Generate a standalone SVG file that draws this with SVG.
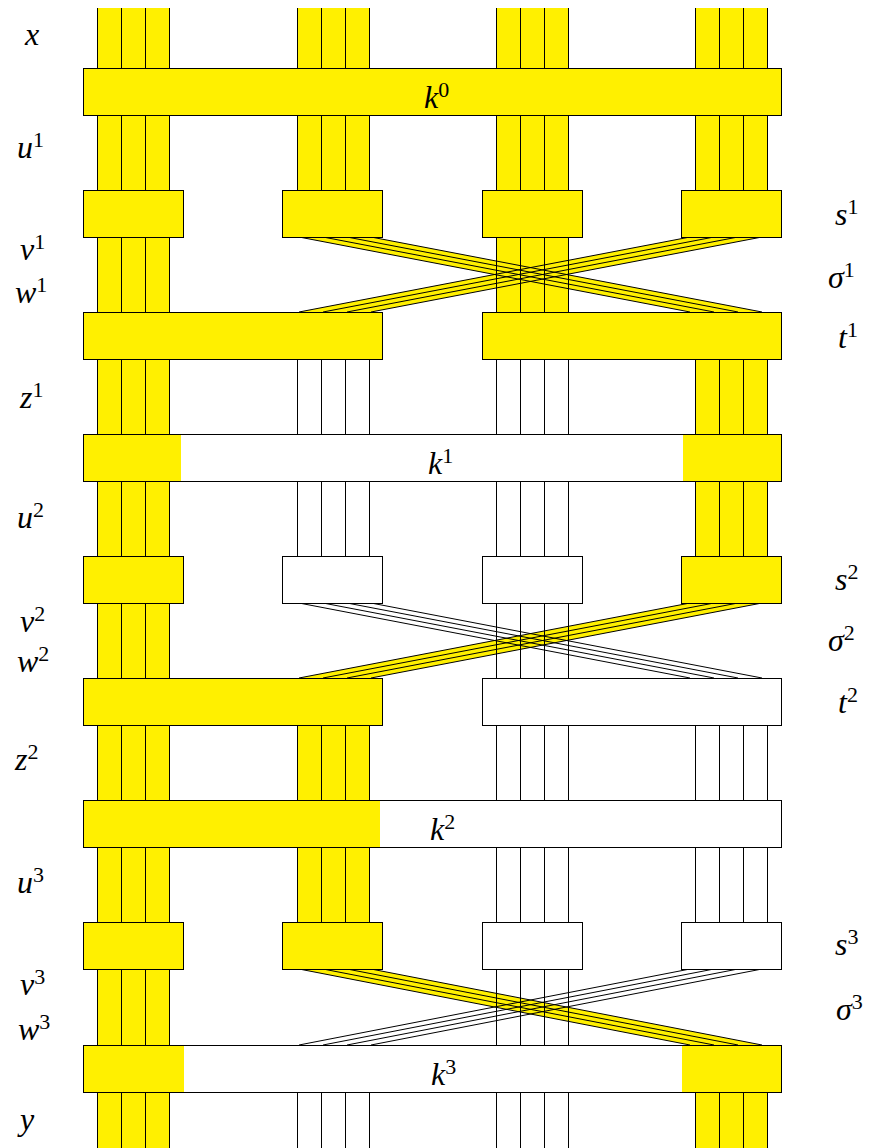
<svg xmlns="http://www.w3.org/2000/svg" width="876" height="1148" viewBox="0 0 876 1148">
<style>
.yf{fill:#FFF000;stroke:none}
.ln{fill:none;stroke:#000;stroke-width:1}
.v{shape-rendering:crispEdges}
.by{fill:#FFF000;stroke:#000;stroke-width:1;shape-rendering:crispEdges}
.bw{fill:#FFFFFF;stroke:#000;stroke-width:1;shape-rendering:crispEdges}
.bo{fill:none;stroke:#000;stroke-width:1;shape-rendering:crispEdges}
.lbl{font-family:"Liberation Serif","DejaVu Serif",serif;font-style:italic;font-size:32px;fill:#000}
.sup{font-style:normal;font-size:22px}
</style>
<rect width="876" height="1148" fill="#fff"/>
<g id="connectors">
  <g class="yf v">
    <rect x="97" y="8" width="72" height="1140"/>
    <rect x="496" y="8" width="72" height="320"/>
    <rect x="297" y="8" width="72" height="229"/>
    <rect x="297" y="678" width="72" height="291"/>
    <rect x="695" y="8" width="72" height="229"/>
    <rect x="695" y="312" width="72" height="291"/>
    <rect x="695" y="1045" width="72" height="103"/>
  </g>
  <g class="yf">
    <polygon points="299,237 371,237 762,312 690,312"/>
    <polygon points="690,237 762,237 371,312 299,312"/>
    <polygon points="690,603 762,603 371,678 299,678"/>
    <polygon points="299,969 371,969 762,1045 690,1045"/>
  </g>
  <path class="ln v" d="M97 8V1148M121 8V1148M145 8V1148M169 8V1148
    M496 8V1148M520 8V1148M544 8V1148M568 8V1148
    M297 8V237M321 8V237M345 8V237M369 8V237
    M297 312V603M321 312V603M345 312V603M369 312V603
    M297 678V969M321 678V969M345 678V969M369 678V969
    M297 1045V1148M321 1045V1148M345 1045V1148M369 1045V1148
    M695 8V237M719 8V237M743 8V237M767 8V237
    M695 312V603M719 312V603M743 312V603M767 312V603
    M695 678V969M719 678V969M743 678V969M767 678V969
    M695 1045V1148M719 1045V1148M743 1045V1148M767 1045V1148"/>
  <path class="ln" d="M299 237L690 312M323 237L714 312M347 237L738 312M371 237L762 312
    M690 237L299 312M714 237L323 312M738 237L347 312M762 237L371 312
    M299 603L690 678M323 603L714 678M347 603L738 678M371 603L762 678
    M690 603L299 678M714 603L323 678M738 603L347 678M762 603L371 678
    M299 969L690 1045M323 969L714 1045M347 969L738 1045M371 969L762 1045
    M690 969L299 1045M714 969L323 1045M738 969L347 1045M762 969L371 1045"/>
</g>
<g id="k0">
  <rect class="by" x="83" y="68" width="698" height="47"/>
  <text class="lbl" x="424" y="108">k<tspan class="sup" dy="-11">0</tspan></text>
</g>
<g id="s1-1"><rect class="by" x="83" y="190" width="100" height="47"/></g>
<g id="s1-2"><rect class="by" x="282.5" y="190" width="100" height="47"/></g>
<g id="s1-3"><rect class="by" x="482" y="190" width="100" height="47"/></g>
<g id="s1-4"><rect class="by" x="681" y="190" width="100" height="47"/></g>
<g id="t1-left"><rect class="by" x="83" y="312" width="299" height="47"/></g>
<g id="t1-right"><rect class="by" x="482" y="312" width="299" height="47"/></g>
<g id="k1">
  <rect class="bw" x="83" y="434" width="698" height="47"/>
  <rect class="yf v" x="83" y="434" width="98" height="47"/>
  <rect class="yf v" x="683" y="434" width="98" height="47"/>
  <rect class="bo" x="83" y="434" width="698" height="47"/>
  <text class="lbl" x="428" y="474">k<tspan class="sup" dy="-11">1</tspan></text>
</g>
<g id="s2-1"><rect class="by" x="83" y="556" width="100" height="47"/></g>
<g id="s2-2"><rect class="bw" x="282.5" y="556" width="100" height="47"/></g>
<g id="s2-3"><rect class="bw" x="482" y="556" width="100" height="47"/></g>
<g id="s2-4"><rect class="by" x="681" y="556" width="100" height="47"/></g>
<g id="t2-left"><rect class="by" x="83" y="678" width="299" height="47"/></g>
<g id="t2-right"><rect class="bw" x="482" y="678" width="299" height="47"/></g>
<g id="k2">
  <rect class="bw" x="83" y="800" width="698" height="47"/>
  <rect class="yf v" x="83" y="800" width="297" height="47"/>
  <rect class="bo" x="83" y="800" width="698" height="47"/>
  <text class="lbl" x="430" y="840">k<tspan class="sup" dy="-11">2</tspan></text>
</g>
<g id="s3-1"><rect class="by" x="83" y="922" width="100" height="47"/></g>
<g id="s3-2"><rect class="by" x="282.5" y="922" width="100" height="47"/></g>
<g id="s3-3"><rect class="bw" x="482" y="922" width="100" height="47"/></g>
<g id="s3-4"><rect class="bw" x="681" y="922" width="100" height="47"/></g>
<g id="k3">
  <rect class="bw" x="83" y="1045" width="698" height="47"/>
  <rect class="yf v" x="83" y="1045" width="101" height="47"/>
  <rect class="yf v" x="682" y="1045" width="99" height="47"/>
  <rect class="bo" x="83" y="1045" width="698" height="47"/>
  <text class="lbl" x="431" y="1085">k<tspan class="sup" dy="-11">3</tspan></text>
</g>
<g id="labels-left" class="lbl">
  <text x="25" y="45">x</text>
  <text x="17" y="158">u<tspan class="sup" dy="-11">1</tspan></text>
  <text x="20" y="260">v<tspan class="sup" dy="-11">1</tspan></text>
  <text x="15" y="303">w<tspan class="sup" dy="-11">1</tspan></text>
  <text x="20" y="408">z<tspan class="sup" dy="-11">1</tspan></text>
  <text x="17" y="528">u<tspan class="sup" dy="-11">2</tspan></text>
  <text x="20" y="632">v<tspan class="sup" dy="-11">2</tspan></text>
  <text x="17" y="672">w<tspan class="sup" dy="-11">2</tspan></text>
  <text x="15" y="770">z<tspan class="sup" dy="-11">2</tspan></text>
  <text x="17" y="893">u<tspan class="sup" dy="-11">3</tspan></text>
  <text x="20" y="995">v<tspan class="sup" dy="-11">3</tspan></text>
  <text x="18" y="1040">w<tspan class="sup" dy="-11">3</tspan></text>
  <text x="20" y="1130">y</text>
</g>
<g id="labels-right" class="lbl">
  <text x="835" y="225">s<tspan class="sup" dy="-11">1</tspan></text>
  <text x="828" y="288">σ<tspan class="sup" dy="-11">1</tspan></text>
  <text x="838" y="348">t<tspan class="sup" dy="-11">1</tspan></text>
  <text x="835" y="590">s<tspan class="sup" dy="-11">2</tspan></text>
  <text x="828" y="651">σ<tspan class="sup" dy="-11">2</tspan></text>
  <text x="838" y="713">t<tspan class="sup" dy="-11">2</tspan></text>
  <text x="835" y="955">s<tspan class="sup" dy="-11">3</tspan></text>
  <text x="836" y="1020">σ<tspan class="sup" dy="-11">3</tspan></text>
</g>
</svg>
